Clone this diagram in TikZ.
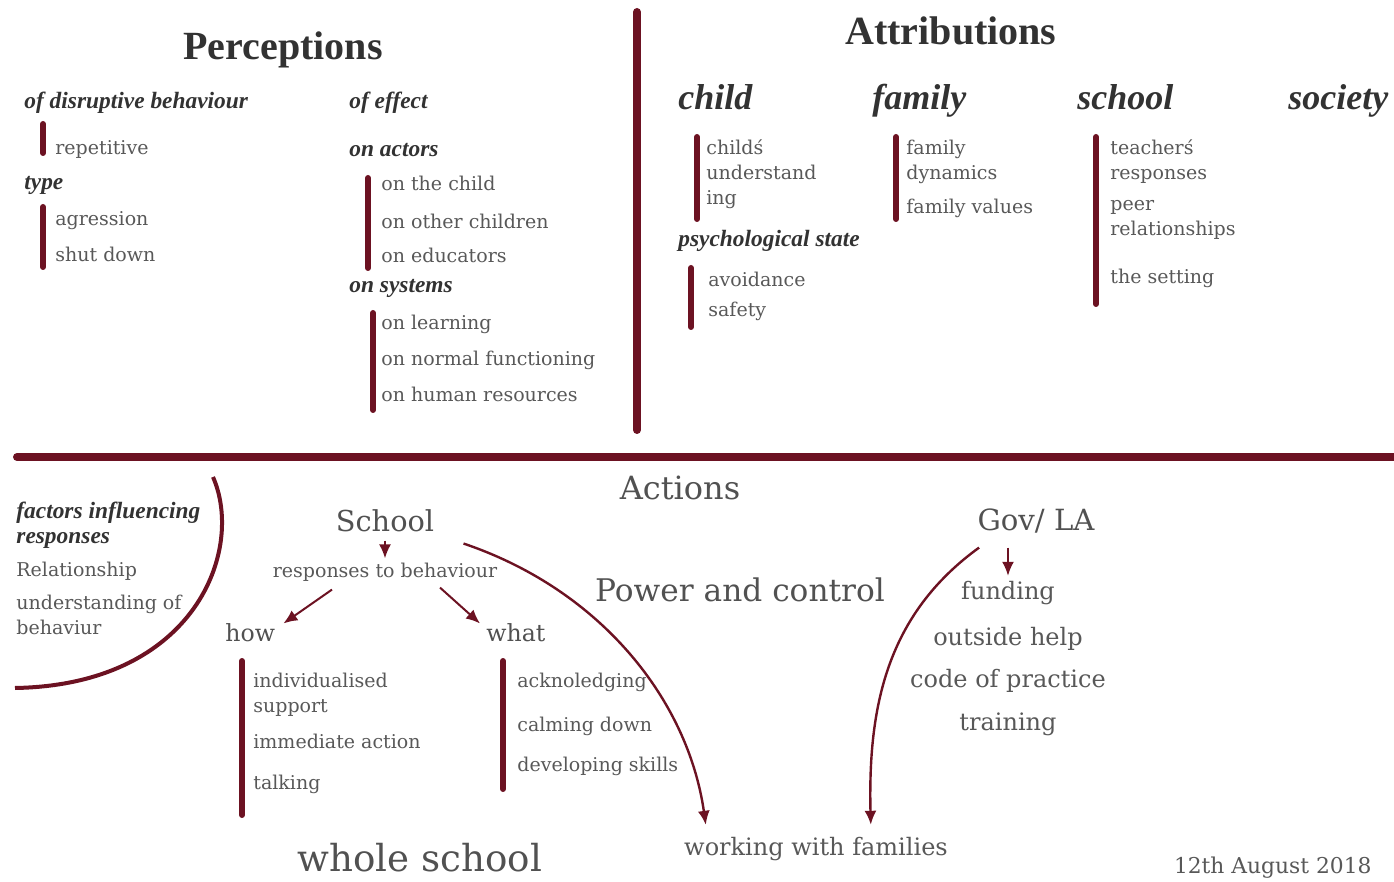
\documentclass[tikz,border=0pt]{standalone}
\usepackage{fontspec}
\setmainfont{DejaVu Serif}
\newfontfamily\headfont{Liberation Serif}
\usepackage{tikz}
\usetikzlibrary{arrows.meta}
\usetikzlibrary{positioning}
\tikzset{>={Latex[length=7pt,width=6pt]}}
\definecolor{wine}{RGB}{108,18,34}
\definecolor{bodygray}{RGB}{88,88,88}
\definecolor{headgray}{RGB}{50,50,50}

\begin{document}
\begin{tikzpicture}[x=0.5pt, y=-0.5pt,
	txt/.style={inner sep=0pt, anchor=west, align=left, text=bodygray, font=\fontsize{9.5}{12.5}\selectfont},
	hd/.style={inner sep=0pt, anchor=west, align=left, text=headgray, font=\headfont\bfseries\itshape\fontsize{11.7}{12.5}\selectfont},
	col/.style={inner sep=0pt, anchor=base west, text=headgray, font=\headfont\bfseries\itshape\fontsize{18}{20}\selectfont},
	title/.style={inner sep=0pt, anchor=base, text=headgray, font=\headfont\bfseries\fontsize{20}{22}\selectfont},
	big/.style={inner sep=0pt, text=headgray!85},
	mid/.style={inner sep=0pt, text=bodygray, font=\fontsize{12}{14}\selectfont},
	bar/.style={draw=wine, line width=3pt, line cap=round},
	rule/.style={draw=wine, line width=4pt, line cap=round},
	arr/.style={->, draw=wine, line width=1pt}]
		\useasboundingbox (0,0) rectangle (1394,882);
		\draw[rule] (637,12) -- (637,430);
		\draw[rule] (17,457) -- (1400,457);

		\node[title] (perc) at (283,60) {Perceptions};
		\node[title] (attr) at (951,45) {Attributions};

		\node[hd] (pdis) at (24,103) {of disruptive behaviour};
		\draw[bar] (43,124) -- (43,153);
		\node[txt] (prep) at (55,149) {repetitive};
		\node[hd] (ptype) at (24,185) {type};
		\draw[bar] (43,207) -- (43,267);
		\node[txt] (pagr) at (55,221) {agression};
		\node[txt] (pshut) at (55,254) {shut down};

		\node[hd] (peff) at (349,103) {of effect};
		\node[hd] (pact) at (349,150) {on actors};
		\draw[bar] (368,178) -- (368,268);
		\node[txt] (pchild) at (381,183) {on the child};
		\node[txt] (pother) at (381,221) {on other children};
		\node[txt] (pedu) at (381,255) {on educators};
		\node[hd] (psys) at (349,288) {on systems};
		\draw[bar] (373,313) -- (373,410);
		\node[txt] (plearn) at (381,324) {on learning};
		\node[txt] (pnorm) at (381,360) {on normal functioning};
		\node[txt] (phum) at (381,394) {on human resources};

		\node[col] (achild) at (678,110) {child};
		\node[col] (afam) at (872,110) {family};
		\node[col] (asch) at (1077,110) {school};
		\node[col] (asoc) at (1288,110) {society};
		\draw[bar] (697,137) -- (697,219);
		\node[txt] (aund) at (706,174) {childś\\understand\\ing};
		\node[hd] (apsy) at (678,241) {psychological state};
		\draw[bar] (691,268) -- (691,327);
		\node[txt] (aavo) at (708,279) {avoidance};
		\node[txt] (asaf) at (708,311) {safety};
		\draw[bar] (896,137) -- (896,219);
		\node[txt] (adyn) at (906,161.5) {family\\dynamics};
		\node[txt] (aval) at (906,208) {family values};
		\draw[bar] (1096,137) -- (1096,304);
		\node[txt] (atea) at (1110,161.5) {teacherś\\responses};
		\node[txt] (apeer) at (1110,220) {peer\\relationships};
		\node[txt] (aset) at (1110,278) {the setting};

		\node[big, font=\fontsize{16}{18}\selectfont] (actions) at (680,488) {Actions};
		\draw[wine, line width=2pt] (213,477) .. controls (245,550) and (195,685) .. (15,688);
		\node[hd] (factors) at (16,525.5) {factors influencing\\responses};
		\node[txt] (rel) at (16,571) {Relationship};
		\node[txt] (undb) at (16,614.5) {understanding of\\behaviur};

		\node[big, font=\fontsize{14.4}{16}\selectfont] (school) at (385,521) {School};
		\node[txt, anchor=center] (resp) at (385,572) {responses to behaviour};
		\node[big, font=\fontsize{11.8}{14}\selectfont, anchor=west] (how) at (225,633) {how};
		\node[big, font=\fontsize{11.8}{14}\selectfont, anchor=west] (what) at (486,633) {what};
		\draw[arr, shorten <=4pt, shorten >=2pt] (school) -- (resp);
		\draw[arr] ([xshift=-26.5pt,yshift=-4pt]resp.south) -- ([xshift=4pt]how.north east);
		\draw[arr] ([xshift=27.5pt,yshift=-3pt]resp.south) -- ([xshift=-3pt]what.north west);
		\draw[bar] (242,661) -- (242,815);
		\node[txt] (indiv) at (253,694.5) {individualised\\support};
		\node[txt] (immed) at (253,741) {immediate action};
		\node[txt] (talk) at (253,784) {talking};
		\draw[bar] (503,661) -- (503,789);
		\node[txt] (ackn) at (517,682) {acknoledging};
		\node[txt] (calm) at (517,726) {calming down};
		\node[txt] (skills) at (517,766) {developing skills};

		\node[big, font=\fontsize{15.6}{18}\selectfont] (power) at (740,590) {Power and control};
		\node[big, font=\fontsize{14.6}{16}\selectfont] (gov) at (1036,521) {Gov/ LA};
		\node[mid] (fund) at (1008,593) {funding};
		\node[mid] (outh) at (1008,639) {outside help};
		\node[mid] (code) at (1008,681) {code of practice};
		\node[mid] (train) at (1008,724) {training};
		\draw[arr, shorten <=7pt, shorten >=2.5pt] (gov.south -| fund.north) -- (fund.north);

		\node[mid] (families) at (816,849) {working with families};
		\draw[arr, line width=1.2pt] ([xshift=14.5pt,yshift=-5.5pt]school.south east) .. controls (601,590) and (688,700) .. ([xshift=11pt,yshift=6pt]families.north west);
		\draw[arr, line width=1.2pt] ([xshift=1pt,yshift=-7pt]gov.south west) .. controls (886,615) and (868,708) .. ([xshift=93.5pt,yshift=6pt]families.north west);

		\node[big, font=\fontsize{18.6}{20}\selectfont] (whole) at (420,858) {whole school};
		\node[txt, anchor=east, font=\fontsize{10.9}{12}\selectfont] (date) at (1372,868) {12th August 2018};
	\end{tikzpicture}
\end{document}
